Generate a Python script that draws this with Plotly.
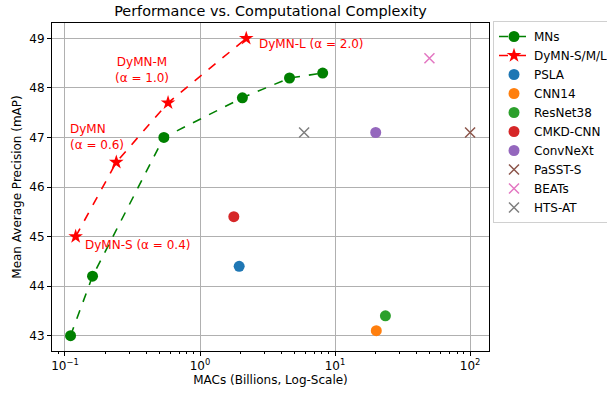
import math
import plotly.graph_objects as go

mns_macs = [0.11, 0.16, 0.54, 2.06, 4.6, 8.1]
mns_map = [43.0, 44.2, 47.0, 47.8, 48.2, 48.3]

dymn_macs = [0.12, 0.24, 0.58, 2.2]
dymn_map = [45.0, 46.5, 47.7, 49.0]
dymn_labels = ["DyMN-S (α = 0.4)", "DyMN<br>(α = 0.6)", "DyMN-M<br>(α = 1.0)", "DyMN-L (α = 2.0)"]

others_names = ["PSLA", "CNN14", "ResNet38", "CMKD-CNN", "ConvNeXt", "PaSST-S", "BEATs", "HTS-AT"]
others_macs = [1.95, 20.2, 23.6, 1.78, 20.0, 100.0, 50.0, 5.9]
others_map = [44.4, 43.1, 43.4, 45.4, 47.1, 47.1, 48.6, 47.1]
others_colors = ["#1f77b4", "#ff7f0e", "#2ca02c", "#d62728", "#9467bd", "#8c564b", "#e377c2", "#7f7f7f"]
others_symbols = ["circle"] * 5 + ["x-thin"] * 3

xtick_vals = [0.1, 1, 10, 100]
xtick_text = ["10<sup>−1</sup>", "10<sup>0</sup>", "10<sup>1</sup>", "10<sup>2</sup>"]
ytick_vals = [43, 44, 45, 46, 47, 48, 49]
minor_vals = [m * 10 ** e for e in (-2, -1, 0, 1, 2) for m in range(2, 10)]

fig = go.Figure()
fig.add_trace(go.Scatter(x=mns_macs, y=mns_map, mode="lines+markers", name="MNs",
                         line=dict(color="green", dash="dash", width=1.6),
                         marker=dict(symbol="circle", size=11, color="green")))
fig.add_trace(go.Scatter(x=dymn_macs, y=dymn_map, mode="lines+markers", name="DyMN-S/M/L",
                         line=dict(color="red", dash="dash", width=1.6),
                         marker=dict(symbol="star", size=11, color="red")))
for n, xm, ym, c, s in zip(others_names, others_macs, others_map, others_colors, others_symbols):
    mk = dict(symbol=s, size=11 if s == "circle" else 10, color=c)
    if s != "circle":
        mk["line"] = dict(color=c, width=1.5)
    fig.add_trace(go.Scatter(x=[xm], y=[ym], mode="markers", name=n, marker=mk))

# annotations: (index, xanchor, yanchor, xshift, yshift, align)
ann_pos = [(0, "left", "middle", 7, -8, "left"), (1, "right", "bottom", 10, 8, "left"),
           (2, "center", "bottom", -26, 16, "center"), (3, "left", "middle", 11, -6, "left")]
for i, xa, ya, dx, dy, al in ann_pos:
    fig.add_annotation(x=math.log10(dymn_macs[i]), y=dymn_map[i], text=dymn_labels[i],
                       showarrow=False, xanchor=xa, yanchor=ya, xshift=dx, yshift=dy,
                       align=al, font=dict(color="red", size=12))

fig.update_layout(
    width=607, height=397,
    margin=dict(l=52, r=118, t=23, b=46, autoexpand=False),
    paper_bgcolor="white", plot_bgcolor="white",
    font=dict(family="DejaVu Sans", size=12, color="black"),
    title=dict(text="Performance vs. Computational Complexity", xref="paper", x=0.5,
               xanchor="center", y=0.972, yanchor="middle", font=dict(size=14.4)),
    legend=dict(xref="container", yref="container", x=493 / 607, xanchor="left",
                y=1 - 21 / 397, yanchor="top", bgcolor="white",
                bordercolor="#d0d0d0", borderwidth=1, font=dict(size=12), tracegroupgap=0,
                itemwidth=30, maxheight=300),
    showlegend=True,
)
fig.update_xaxes(type="log", range=[-1.096, 2.14], tickvals=xtick_vals, ticktext=xtick_text,
                 tickfont=dict(size=12),
                 title=dict(text="MACs (Billions, Log-Scale)", font=dict(size=12), standoff=3),
                 showgrid=True, gridcolor="#b0b0b0", gridwidth=1,
                 showline=True, linecolor="black", linewidth=1, mirror=True,
                 ticks="outside", ticklen=4, tickcolor="black", zeroline=False,
                 minor=dict(tickmode="array", tickvals=minor_vals, ticks="outside",
                            ticklen=2, tickcolor="black", showgrid=False))
fig.update_yaxes(range=[42.69, 49.31], tickvals=ytick_vals, tickfont=dict(size=12),
                 title=dict(text="Mean Average Precision (mAP)", font=dict(size=12), standoff=5),
                 showgrid=True, gridcolor="#b0b0b0", gridwidth=1,
                 showline=True, linecolor="black", linewidth=1, mirror=True,
                 ticks="outside", ticklen=4, tickcolor="black", zeroline=False)

fig.write_html("out.html", config={"displayModeBar": False},
               post_script="document.body.style.margin='0';")
